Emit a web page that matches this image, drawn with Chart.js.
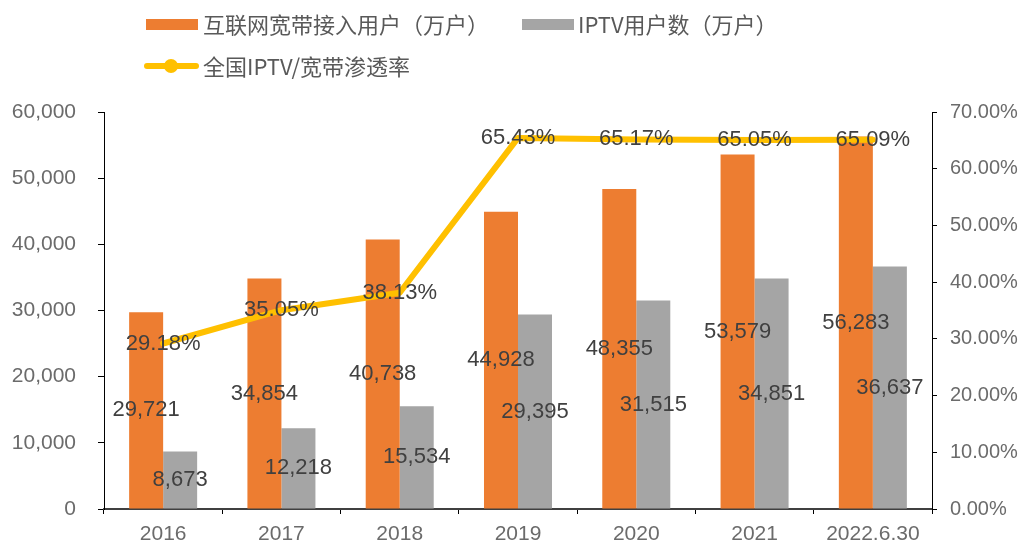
<!DOCTYPE html>
<html>
<head>
<meta charset="utf-8">
<script src="https://cdn.jsdelivr.net/npm/chart.js@4/dist/chart.umd.min.js"></script>
<style>
  html, body { margin: 0; padding: 0; background: #fff; }
  #wrap { width: 1019px; height: 545px; position: relative; }
</style>
</head>
<body>
<div id="wrap"><canvas id="iptvChart"></canvas></div>
<script>
// data
var years = ['2016', '2017', '2018', '2019', '2020', '2021', '2022.6.30'];
var broadbandUsers = [29721, 34854, 40738, 44928, 48355, 53579, 56283];
var iptvUsers = [8673, 12218, 15534, 29395, 31515, 34851, 36637];
var penetration = [29.18, 35.05, 38.13, 65.43, 65.17, 65.05, 65.09];
var seriesNames = ['互联网宽带接入用户（万户）', 'IPTV用户数（万户）', '全国IPTV/宽带渗透率'];

var numFont = '"Liberation Sans", Arial, sans-serif';
var cjkFont = '"Noto Sans CJK SC", "Noto Sans", sans-serif';

// value labels in the middle of bars and on the line points
var valueLabels = {
    id: 'valueLabels',
    afterDatasetsDraw: function (chart) {
        var ctx = chart.ctx;
        ctx.save();
        ctx.font = '22px ' + numFont;
        ctx.fillStyle = '#404040';
        ctx.textAlign = 'center';
        ctx.textBaseline = 'middle';
        chart.data.datasets.forEach(function (ds, i) {
            var meta = chart.getDatasetMeta(i);
            meta.data.forEach(function (el, j) {
                var v = ds.data[j];
                if (ds.type === 'line') {
                    ctx.fillText(v.toFixed(2) + '%', el.x, el.y);
                } else {
                    ctx.fillText(v.toLocaleString('en-US'), el.x, (el.y + el.base) / 2);
                }
            });
        });
        ctx.restore();
    }
};

// legend drawn like the original: two rows, left aligned
var topLegend = {
    id: 'topLegend',
    afterDraw: function (chart) {
        var ctx = chart.ctx;
        var ds = chart.data.datasets;
        ctx.save();
        ctx.font = '22px ' + cjkFont;
        ctx.textBaseline = 'middle';
        ctx.fillStyle = ds[0].backgroundColor;
        ctx.fillRect(146, 19, 52, 11);
        var x2 = 203 + ctx.measureText(ds[0].label).width + 33;
        ctx.fillStyle = ds[1].backgroundColor;
        ctx.fillRect(x2, 19, 52, 11);

        ctx.strokeStyle = ds[2].borderColor;
        ctx.lineWidth = 6;
        ctx.lineCap = 'round';
        ctx.beginPath();
        ctx.moveTo(147, 66);
        ctx.lineTo(196, 66);
        ctx.stroke();
        ctx.fillStyle = ds[2].borderColor;
        ctx.beginPath();
        ctx.arc(171, 66, 7, 0, Math.PI * 2);
        ctx.fill();

        ctx.fillStyle = '#595959';
        ctx.fillText(ds[0].label, 203, 25);
        ctx.fillText(ds[1].label, x2 + 56, 25);
        ctx.fillText(ds[2].label, 203, 67);
        ctx.restore();
    }
};

var ctx = document.getElementById('iptvChart').getContext('2d');
var iptvChart = new Chart(ctx, {
    type: 'bar',
    data: {
        labels: years,
        datasets: [{
            label: seriesNames[0],
            data: broadbandUsers,
            backgroundColor: '#ED7D31',
            yAxisID: 'y',
            order: 1
        }, {
            label: seriesNames[1],
            data: iptvUsers,
            backgroundColor: '#A5A5A5',
            yAxisID: 'y',
            order: 1
        }, {
            type: 'line',
            label: seriesNames[2],
            data: penetration,
            borderColor: '#FFC000',
            backgroundColor: '#FFC000',
            borderWidth: 6,
            borderCapStyle: 'round',
            borderJoinStyle: 'round',
            pointRadius: 0,
            tension: 0,
            yAxisID: 'y1',
            order: 0
        }]
    },
    options: {
        responsive: true,
        maintainAspectRatio: false,
        animation: false,
        layout: {
            padding: { top: 112, left: 0, right: 0, bottom: 0 }
        },
        datasets: {
            bar: {
                barPercentage: 1,
                categoryPercentage: 0.575
            }
        },
        plugins: {
            legend: { display: false },
            tooltip: { enabled: false }
        },
        scales: {
            x: {
                afterFit: function (s) { s.height = 36; },
                grid: {
                    display: true,
                    drawOnChartArea: false,
                    tickLength: 5,
                    color: '#000'
                },
                border: { color: '#404040', width: 2 },
                ticks: {
                    color: '#6b6b6b',
                    padding: 8,
                    font: { family: numFont, size: 21 }
                }
            },
            y: {
                position: 'left',
                min: 0,
                max: 60000,
                afterFit: function (s) { s.width = 104; },
                grid: {
                    drawOnChartArea: false,
                    tickLength: 6,
                    color: '#000'
                },
                border: { color: '#000', width: 1 },
                ticks: {
                    stepSize: 10000,
                    color: '#6b6b6b',
                    padding: 22,
                    font: { family: numFont, size: 21 },
                    callback: function (v) { return v.toLocaleString('en-US'); }
                }
            },
            y1: {
                position: 'right',
                min: 0,
                max: 70,
                afterFit: function (s) { s.width = 87; },
                grid: {
                    drawOnChartArea: false,
                    tickLength: 5,
                    color: '#000'
                },
                border: { color: '#000', width: 1 },
                ticks: {
                    stepSize: 10,
                    color: '#6b6b6b',
                    padding: 13,
                    font: { family: numFont, size: 20 },
                    callback: function (v) { return v.toFixed(2) + '%'; }
                }
            }
        }
    },
    plugins: [valueLabels, topLegend]
});
</script>
</body>
</html>
